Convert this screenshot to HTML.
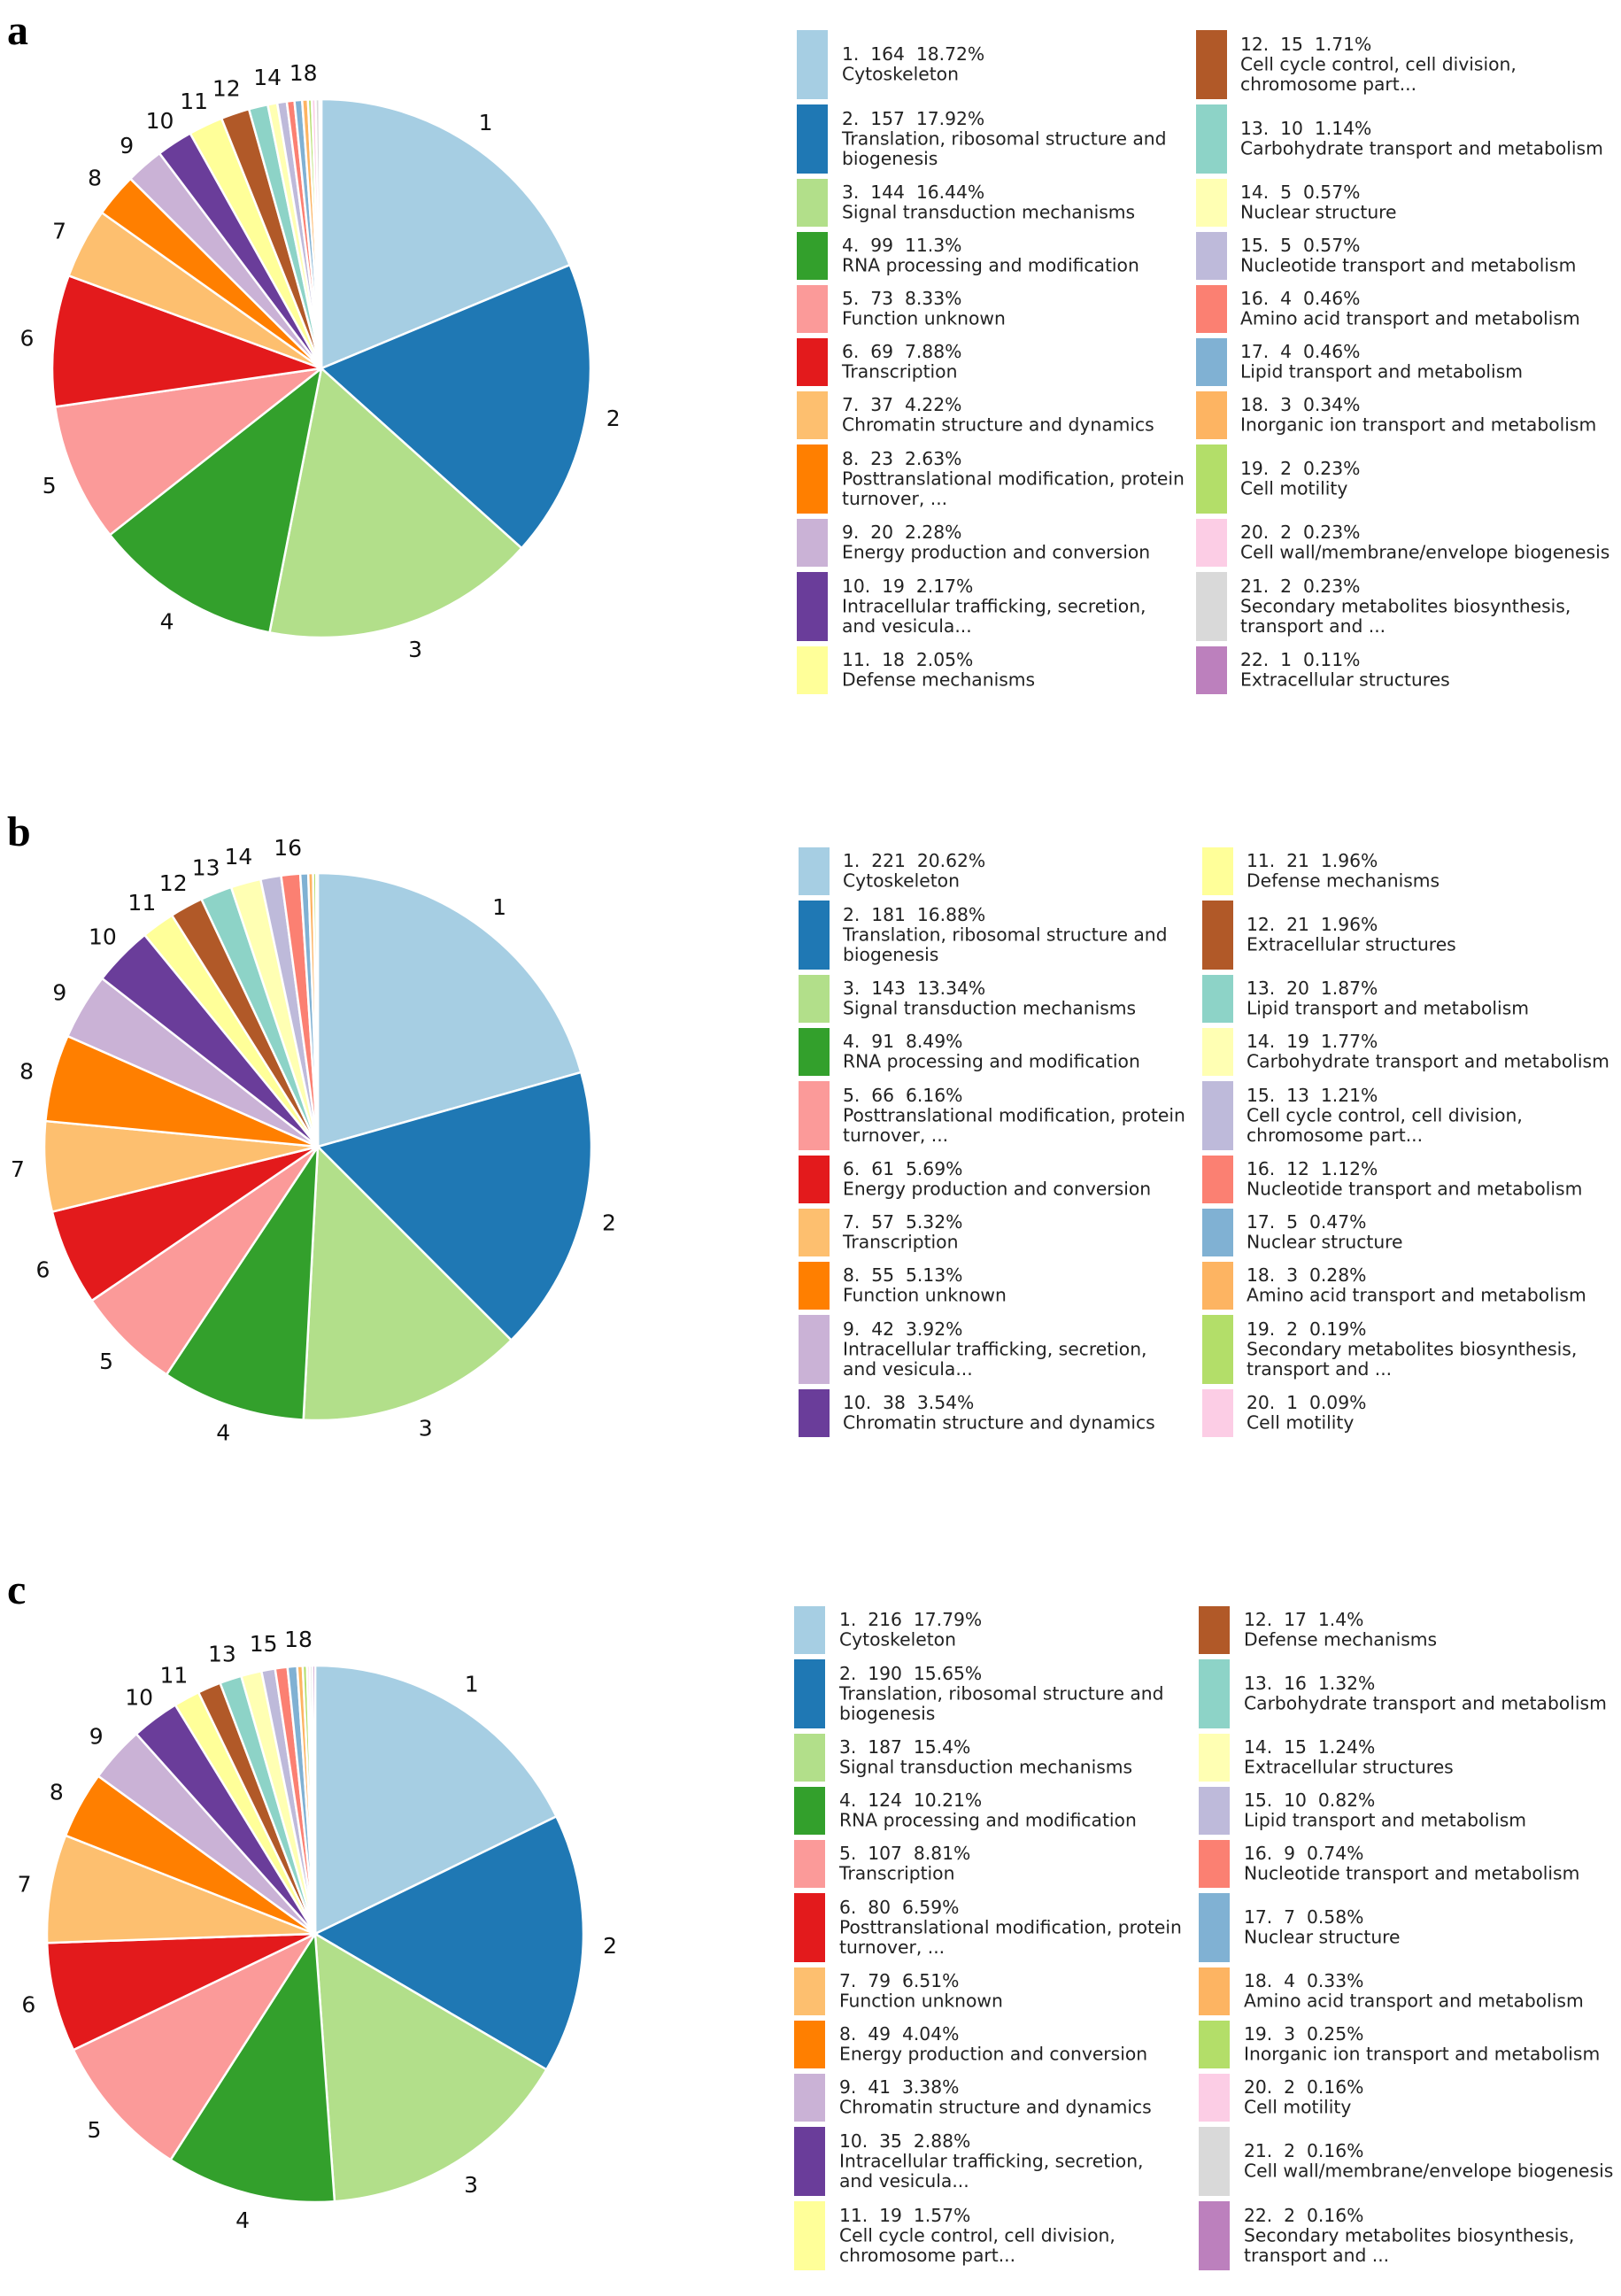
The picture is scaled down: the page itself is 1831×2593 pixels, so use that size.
<!DOCTYPE html>
<html><head><meta charset="utf-8"><style>
html,body{margin:0;padding:0;background:#fff}
svg{display:block}
.lt{white-space:pre}
</style></head><body>
<svg id="fig" width="1831" height="2593" viewBox="0 0 1831 2593" xmlns="http://www.w3.org/2000/svg"></svg>
<script>
const colors=["#a6cee3","#1f78b4","#b2df8a","#33a02c","#fb9a99","#e31a1c","#fdbf6f","#ff7f00","#cab2d6","#6a3d9a","#ffff99","#b15928","#8dd3c7","#ffffb3","#bebada","#fb8072","#80b1d3","#fdb462","#b3de69","#fccde5","#d9d9d9","#bc80bd"];

const countsA=[164,157,144,99,73,69,37,23,20,19,18,15,10,5,5,4,4,3,2,2,2,1];
const pctA=["18.72%","17.92%","16.44%","11.3%","8.33%","7.88%","4.22%","2.63%","2.28%","2.17%","2.05%","1.71%","1.14%","0.57%","0.57%","0.46%","0.46%","0.34%","0.23%","0.23%","0.23%","0.11%"];
const namesA=[["Cytoskeleton"],["Translation, ribosomal structure and","biogenesis"],["Signal transduction mechanisms"],["RNA processing and modification"],["Function unknown"],["Transcription"],["Chromatin structure and dynamics"],["Posttranslational modification, protein","turnover, ..."],["Energy production and conversion"],["Intracellular trafficking, secretion,","and vesicula..."],["Defense mechanisms"],["Cell cycle control, cell division,","chromosome part..."],["Carbohydrate transport and metabolism"],["Nuclear structure"],["Nucleotide transport and metabolism"],["Amino acid transport and metabolism"],["Lipid transport and metabolism"],["Inorganic ion transport and metabolism"],["Cell motility"],["Cell wall/membrane/envelope biogenesis"],["Secondary metabolites biosynthesis,","transport and ..."],["Extracellular structures"]];
const labelsShownA=[1,2,3,4,5,6,7,8,9,10,11,12,14,18];

const countsB=[221,181,143,91,66,61,57,55,42,38,21,21,20,19,13,12,5,3,2,1];
const pctB=["20.62%","16.88%","13.34%","8.49%","6.16%","5.69%","5.32%","5.13%","3.92%","3.54%","1.96%","1.96%","1.87%","1.77%","1.21%","1.12%","0.47%","0.28%","0.19%","0.09%"];
const namesB=[["Cytoskeleton"],["Translation, ribosomal structure and","biogenesis"],["Signal transduction mechanisms"],["RNA processing and modification"],["Posttranslational modification, protein","turnover, ..."],["Energy production and conversion"],["Transcription"],["Function unknown"],["Intracellular trafficking, secretion,","and vesicula..."],["Chromatin structure and dynamics"],["Defense mechanisms"],["Extracellular structures"],["Lipid transport and metabolism"],["Carbohydrate transport and metabolism"],["Cell cycle control, cell division,","chromosome part..."],["Nucleotide transport and metabolism"],["Nuclear structure"],["Amino acid transport and metabolism"],["Secondary metabolites biosynthesis,","transport and ..."],["Cell motility"]];
const labelsShownB=[1,2,3,4,5,6,7,8,9,10,11,12,13,14,16];

const countsC=[216,190,187,124,107,80,79,49,41,35,19,17,16,15,10,9,7,4,3,2,2,2];
const pctC=["17.79%","15.65%","15.4%","10.21%","8.81%","6.59%","6.51%","4.04%","3.38%","2.88%","1.57%","1.4%","1.32%","1.24%","0.82%","0.74%","0.58%","0.33%","0.25%","0.16%","0.16%","0.16%"];
const namesC=[["Cytoskeleton"],["Translation, ribosomal structure and","biogenesis"],["Signal transduction mechanisms"],["RNA processing and modification"],["Transcription"],["Posttranslational modification, protein","turnover, ..."],["Function unknown"],["Energy production and conversion"],["Chromatin structure and dynamics"],["Intracellular trafficking, secretion,","and vesicula..."],["Cell cycle control, cell division,","chromosome part..."],["Defense mechanisms"],["Carbohydrate transport and metabolism"],["Extracellular structures"],["Lipid transport and metabolism"],["Nucleotide transport and metabolism"],["Nuclear structure"],["Amino acid transport and metabolism"],["Inorganic ion transport and metabolism"],["Cell motility"],["Cell wall/membrane/envelope biogenesis"],["Secondary metabolites biosynthesis,","transport and ..."]];
const labelsShownC=[1,2,3,4,5,6,7,8,9,10,11,13,15,18];

const NS="http://www.w3.org/2000/svg";
const svg=document.getElementById('fig');
function mk(tag,attrs,parent){const e=document.createElementNS(NS,tag);for(const k in attrs)e.setAttribute(k,attrs[k]);(parent||svg).appendChild(e);return e;}

function drawPanel(letter,ly,counts,pct,names,shown,cx,cy,r,legTop,c1s,c1t,c2s,c2t){
  const g=mk('g',{});
  
  
  const lt=mk('text',{x:8,y:ly,'font-family':'Liberation Serif, serif','font-weight':'bold','font-size':48,fill:'#000'},g);
  lt.textContent=letter;
  
  
  const total=counts.reduce((a,b)=>a+b,0);
  let ang=0;
  const pg=mk('g',{},g);
  
  
  counts.forEach((v,i)=>{
    const a0=ang, a1=ang+v/total*2*Math.PI; ang=a1;
    const p=(a)=>[cx+r*Math.sin(a), cy-r*Math.cos(a)];
    const [x0,y0]=p(a0),[x1,y1]=p(a1);
    const large=(a1-a0)>Math.PI?1:0;
    const path=mk('path',{d:`M${cx},${cy} L${x0},${y0} A${r},${r} 0 ${large} 1 ${x1},${y1} Z`,fill:colors[i],stroke:'#fff','stroke-width':2.5,'stroke-linejoin':'round'},pg);
    
    
    if(shown.includes(i+1)){
      const m=(a0+a1)/2, rr=r*1.1;
      const t=mk('text',{x:cx+rr*Math.sin(m),y:cy-rr*Math.cos(m)+9,'text-anchor':'middle','font-family':'DejaVu Sans, sans-serif','font-size':25,fill:'#111'},pg);
      t.textContent=String(i+1);
      
      
    }
  });
  const n=counts.length, half=Math.ceil(n/2);
  const lg=mk('g',{},g);
  
  
  let y=legTop;
  for(let row=0;row<half;row++){
    const idx=[row,row+half];
    let lines=0;
    idx.forEach(k=>{if(k<n)lines=Math.max(lines,names[k].length+1);});
    const rh=lines>=3?84:60;
    idx.forEach((k,col)=>{
      if(k>=n)return;
      const sx=col?c2s:c1s, tx=col?c2t:c1t;
      const e=mk('g',{},lg);
      
      
      mk('rect',{x:sx,y:y,width:35,height:rh-6,fill:colors[k]},e);
      const tl=[`${k+1}.  ${counts[k]}  ${pct[k]}`].concat(names[k]);
      const lh=22.5, blockH=tl.length*lh;
      const top=y+(rh-6-blockH)/2;
      tl.forEach((s,j)=>{
        const t=mk('text',{x:tx,y:top+lh*(j+1)-5,'font-family':'DejaVu Sans, sans-serif','font-size':20.3,fill:'#222','class':'lt'},e);
        t.textContent=s;
      });
    });
    y+=rh;
  }
}
drawPanel('a',50,countsA,pctA,namesA,labelsShownA,363,416,304,34,900,951,1351,1401);
drawPanel('b',955,countsB,pctB,namesB,labelsShownB,359,1295,309,957,902,952,1358,1408);
drawPanel('c',1811,countsC,pctC,namesC,labelsShownC,356,2184,303,1814,897,948,1354,1405);
</script>
</body></html>
